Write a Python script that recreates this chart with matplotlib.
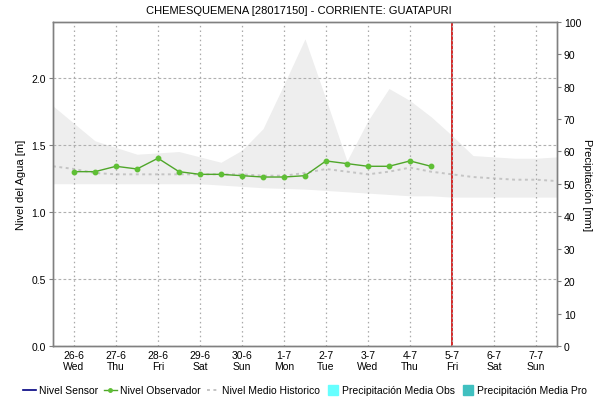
import numpy as np
import pandas as pd
import matplotlib
matplotlib.use("Agg")
import matplotlib.pyplot as plt
from matplotlib.lines import Line2D
from matplotlib.ticker import FormatStrFormatter

plt.rcParams['font.family'] = ['Liberation Sans', 'DejaVu Sans']

TITLE = 'CHEMESQUEMENA [28017150] - CORRIENTE: GUATAPURI'

# daily ticks
day_labels = ['26-6', '27-6', '28-6', '29-6', '30-6', '1-7', '2-7', '3-7', '4-7', '5-7', '6-7', '7-7']
weekday_labels = ['Wed', 'Thu', 'Fri', 'Sat', 'Sun', 'Mon', 'Tue', 'Wed', 'Thu', 'Fri', 'Sat', 'Sun']
day0 = pd.Timestamp('2019-06-26')
today = pd.Timestamp('2019-07-05')

# observer readings, every 12 h from 26-6
obs_level = [1.30, 1.30, 1.34, 1.32, 1.40, 1.30, 1.28, 1.28, 1.27, 1.26,
             1.26, 1.27, 1.38, 1.36, 1.34, 1.34, 1.38, 1.34]

# historical mean / envelope, every 12 h from 25-6 12:00
hist_mean = [1.34, 1.32, 1.29, 1.28, 1.28, 1.28, 1.28, 1.28, 1.28, 1.28,
             1.27, 1.27, 1.29, 1.32, 1.30, 1.28, 1.30, 1.33, 1.30, 1.28,
             1.26, 1.25, 1.24, 1.24, 1.23, 1.22]
hist_max = [1.79, 1.66, 1.53, 1.48, 1.43, 1.44, 1.45, 1.41, 1.37, 1.46,
            1.62, 1.95, 2.29, 1.84, 1.38, 1.68, 1.92, 1.83, 1.71, 1.57,
            1.42, 1.41, 1.40, 1.40, 1.41, 1.42]
hist_min = [1.21, 1.21, 1.21, 1.21, 1.21, 1.21, 1.21, 1.21, 1.20, 1.19,
            1.18, 1.175, 1.17, 1.16, 1.15, 1.14, 1.13, 1.12, 1.12, 1.11,
            1.11, 1.11, 1.11, 1.11, 1.11, 1.11]

# no sensor data nor precipitation for this period
sensor_level = []
precip_obs = []
precip_pro = []

obs_t = pd.date_range(day0, periods=len(obs_level), freq='12h')
hist_t = pd.date_range(day0 - pd.Timedelta('12h'), periods=len(hist_mean), freq='12h')
day_t = pd.date_range(day0, periods=len(day_labels), freq='D')

fig = plt.figure(figsize=(5.98, 4.02), dpi=100)
ax = fig.add_axes([0.0886, 0.1368, 0.8428, 0.8067])
ax2 = ax.twinx()

ax.fill_between(hist_t, hist_min, hist_max, color='#eeeeee', lw=0, zorder=1)
ax.plot(hist_t, hist_mean, color='#c4c4c4', lw=1.4, ls=(0, (1.5, 1.8)), zorder=2)
ax.plot(obs_t, obs_level, color='#4fa62a', lw=1.0, marker='o', ms=3.2,
        mfc='#5fbf35', mec='#5fbf35', zorder=4)
if sensor_level:
    ax.plot(obs_t[:len(sensor_level)], sensor_level, color='#000080', lw=1)
ax.axvline(today, color='#d42a2a', lw=1.4, zorder=2)
if precip_obs:
    ax2.bar(day_t[:len(precip_obs)], precip_obs, width=0.4, color='#66ffff')
if precip_pro:
    ax2.bar(day_t[-len(precip_pro):], precip_pro, width=0.4, color='#40c0c0')

ax.set_xlim(day0 - pd.Timedelta('12h'), day_t[-1] + pd.Timedelta('12h'))
ax.set_ylim(0, 2.418)
ax2.set_ylim(0, 100)

ax.set_xticks(day_t)
ax.set_xticklabels([d + '\n' + w for d, w in zip(day_labels, weekday_labels)],
                   fontsize=7.5, linespacing=1.05)
ax.set_yticks([0, 0.5, 1.0, 1.5, 2.0])
ax.yaxis.set_major_formatter(FormatStrFormatter('%.1f'))
ax.tick_params(axis='y', labelsize=7.5, length=3, color='#808080', pad=2)
ax.tick_params(axis='x', length=0, pad=3)
ax2.set_yticks(np.arange(0, 101, 10))
ax2.tick_params(axis='y', labelsize=7.5, length=3, color='#808080', pad=2)

ax.grid(axis='x', color='#a8a8a8', ls=(0, (1.2, 2.5)), lw=0.9)
ax.grid(axis='y', color='#b0b0b0', ls=(0, (2.5, 2)), lw=0.8)
ax.set_axisbelow(False)

for a in (ax, ax2):
    for s in a.spines.values():
        s.set_color('#808080')
        s.set_linewidth(1)

ax.set_ylabel('Nivel del Agua [m]', fontsize=8, labelpad=4)
ax2.set_ylabel('Precipitación [mm]', fontsize=8, rotation=-90, labelpad=8)
fig.text(0.5, 0.972, TITLE, ha='center', va='center', fontsize=8)

handles = [
    Line2D([], [], color='#000080', lw=1.2),
    Line2D([], [], color='#4fa62a', lw=1.0, marker='o', ms=2.5, mfc='#5fbf35', mec='#5fbf35'),
    Line2D([], [], color='#c4c4c4', lw=1.4, ls=(0, (1.5, 1.8))),
    Line2D([], [], color='#66ffff', marker='s', ms=7, ls='none'),
    Line2D([], [], color='#40c0c0', marker='s', ms=7, ls='none'),
]
labels = ['Nivel Sensor', 'Nivel Observador', 'Nivel Medio Historico',
          'Precipitación Media Obs', 'Precipitación Media Pro']
fig.legend(handles, labels, loc='center', bbox_to_anchor=(0.51, 0.027), ncol=5,
           frameon=False, fontsize=7.5, handlelength=1.2, handletextpad=0.3,
           columnspacing=0.6, borderaxespad=0)

fig.savefig('out.png', dpi=100)
